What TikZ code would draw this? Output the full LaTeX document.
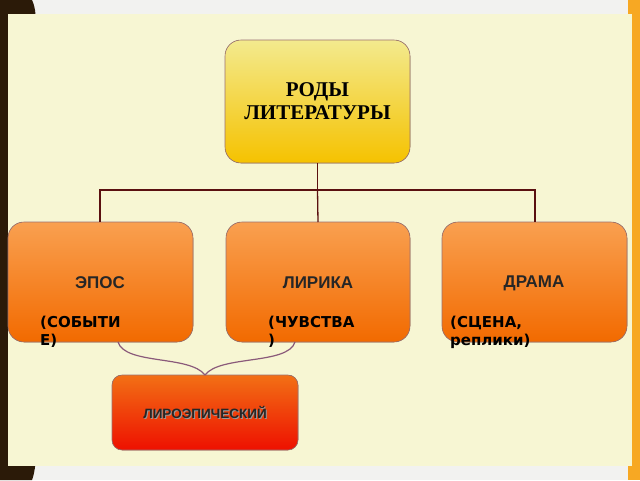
\documentclass[tikz,border=0pt]{standalone}
\usepackage{fontspec}
\setmainfont{Liberation Sans}
\newfontfamily\serifb{Liberation Serif}
\newfontfamily\djv{DejaVu Sans}
\definecolor{bggray}{HTML}{F2F2F0}
\definecolor{darkstrip}{HTML}{2B1A08}
\definecolor{orstrip}{HTML}{F7A823}
\definecolor{cream}{HTML}{F7F6D3}
\definecolor{linec}{HTML}{5A1010}
\definecolor{bracec}{HTML}{8A5A7A}
\definecolor{ytop}{HTML}{F3EA8E}
\definecolor{ybot}{HTML}{F5C200}
\definecolor{otop}{HTML}{F9A050}
\definecolor{obot}{HTML}{F26A00}
\definecolor{rtop}{HTML}{F27015}
\definecolor{rbot}{HTML}{EE1000}
\tikzset{
  box/.style={rounded corners=16pt, draw=linec!60, line width=0.6pt},
  ybox/.style={box, top color=ytop, bottom color=ybot},
  obox/.style={box, top color=otop, bottom color=obot},
  rbox/.style={box, top color=rtop, bottom color=rbot, rounded corners=10pt},
  conn/.style={draw=linec, line width=1.3pt},
  lbl/.style={font=\djv\bfseries\fontsize{15}{18}\selectfont, anchor=north west, align=left, inner sep=0pt, text=black}
}
\begin{document}
\begin{tikzpicture}[x=1pt,y=-1pt]
\useasboundingbox (0,0) rectangle (640,480);
\fill[bggray] (0,0) rectangle (640,480);
\fill[darkstrip] (0,0) -- (32,0) .. controls (36,8) and (36,20) .. (36,30) -- (36,450) .. controls (36,465) and (34,475) .. (32,480) -- (0,480) -- cycle;
\fill[orstrip] (628,0) rectangle (640,480);
\fill[cream] (8,14) rectangle (632,466);
\filldraw[ybox] (225,40) rectangle (410,163);
\node[font=\serifb\bfseries\fontsize{21}{23}\selectfont, align=center] (root) at (317.5,101) {РОДЫ\\ЛИТЕРАТУРЫ};
\coordinate (rb) at (317.5,163);
\filldraw[obox] (8,222) rectangle (193,342);
\filldraw[obox] (226,222) rectangle (410,342);
\filldraw[obox] (442,222) rectangle (627,342);
\coordinate (e) at (100,222);
\coordinate (l) at (318,222);
\coordinate (d) at (535,222);
\draw[conn] (rb) -- (317.5,190);
\draw[conn] (e) -- (100,190) -- (535,190) -- (d);
\draw[conn] (317.5,190) -- (l);
\node[font=\bfseries\fontsize{17}{20}\selectfont, text=black!85] (epos) at (100,283) {ЭПОС};
\node[font=\bfseries\fontsize{17}{20}\selectfont, text=black!85] (lir) at (318,283) {ЛИРИКА};
\node[font=\bfseries\fontsize{17}{20}\selectfont, text=black!85] (dr) at (534,283) {ДРАМА};
\node[lbl] (l1) at (40,316) {(СОБЫТИ\\Е)};
\node[lbl] (l2) at (268,316) {(ЧУВСТВА\\)};
\node[lbl] (l3) at (450,316) {(СЦЕНА,\\реплики)};
\filldraw[rbox] (112,375) rectangle (298,450);
\coordinate (bl) at (118,342);
\coordinate (br) at (295,342);
\coordinate (bm) at (205,375);
\draw[bracec, line width=1.2pt] (bl) .. controls (125,365) and (190,355) .. (bm);
\draw[bracec, line width=1.2pt] (br) .. controls (288,365) and (220,355) .. (bm);
\node[font=\bfseries\fontsize{13.5}{16}\selectfont, text=black!40, xshift=1pt, yshift=-1pt] at (205,412) {ЛИРОЭПИЧЕСКИЙ};
\node[font=\bfseries\fontsize{13.5}{16}\selectfont, text=black!85] (le) at (205,412) {ЛИРОЭПИЧЕСКИЙ};
\end{tikzpicture}
\end{document}
